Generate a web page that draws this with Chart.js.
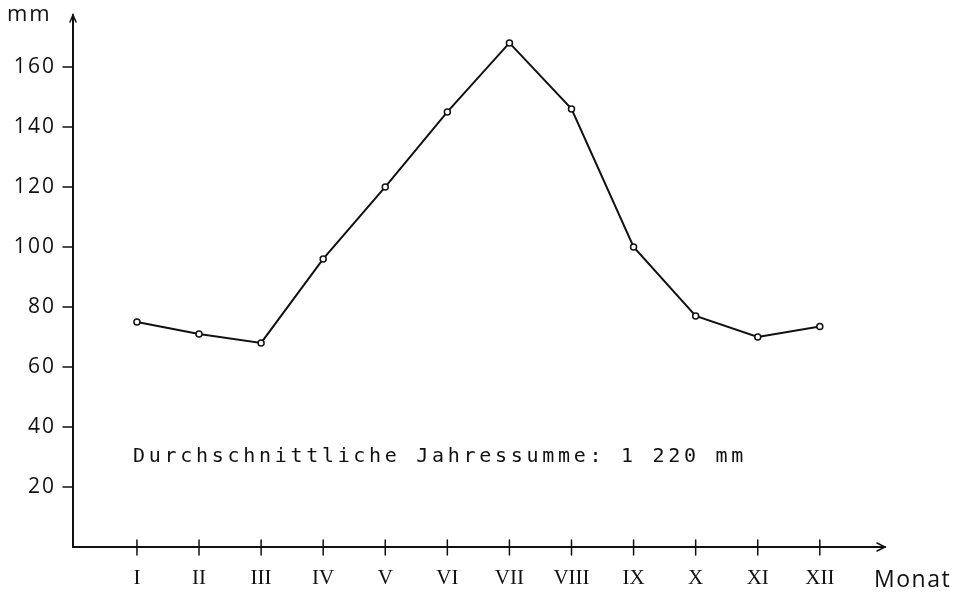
<!DOCTYPE html>
<html>
<head>
<meta charset="utf-8">
<script src="https://cdn.jsdelivr.net/npm/chart.js@4.4.1/dist/chart.umd.min.js"></script>
<style>
  html, body { margin: 0; padding: 0; background: #fff; }
  #wrap { width: 959px; height: 596px; position: relative; }
</style>
</head>
<body>
<div id="wrap"><canvas id="c" width="959" height="596"></canvas></div>
<script>
// ---- data ----
const months = ["I","II","III","IV","V","VI","VII","VIII","IX","X","XI","XII"];
const monthPos = [1,2,3,4,5,6,7,8,9,10,11,12];
const rainfall = [75, 71, 68, 96, 120, 145, 168, 146, 100, 77, 70, 73.5];
const yTicks = [20, 40, 60, 80, 100, 120, 140, 160];
const yUnit = "mm";
const xTitle = "Monat";
const note = "Durchschnittliche Jahressumme: 1 220 mm";

const points = monthPos.map((p, i) => ({ x: p, y: rainfall[i] }));
const INK = "#111";

const axesPlugin = {
  id: "handAxes",
  afterDraw(chart) {
    const ctx = chart.ctx;
    const xs = chart.scales.x, ys = chart.scales.y;
    const ca = chart.chartArea;
    const x0 = xs.getPixelForValue(xs.min);
    const y0 = ys.getPixelForValue(0);
    const xEnd = ca.right;
    const yTop = ca.top;
    ctx.save();
    ctx.strokeStyle = INK;
    ctx.lineWidth = 2;
    ctx.lineCap = "round";
    // y axis
    ctx.beginPath();
    ctx.moveTo(x0, y0);
    ctx.lineTo(x0, yTop);
    ctx.stroke();
    ctx.lineWidth = 1.5;
    ctx.beginPath();
    ctx.moveTo(x0 - 3, yTop + 7);
    ctx.lineTo(x0, yTop);
    ctx.lineTo(x0 + 3, yTop + 7);
    ctx.stroke();
    // x axis
    ctx.lineWidth = 2;
    ctx.beginPath();
    ctx.moveTo(x0, y0);
    ctx.lineTo(xEnd, y0);
    ctx.stroke();
    ctx.lineWidth = 1.5;
    ctx.beginPath();
    ctx.moveTo(xEnd - 8, y0 - 4);
    ctx.lineTo(xEnd, y0);
    ctx.lineTo(xEnd - 8, y0 + 4);
    ctx.stroke();
    // y ticks
    ctx.lineWidth = 1.5;
    yTicks.forEach(v => {
      const py = ys.getPixelForValue(v);
      ctx.beginPath();
      ctx.moveTo(x0 - 10, py);
      ctx.lineTo(x0, py);
      ctx.stroke();
    });
    // x ticks (crossing)
    monthPos.forEach(v => {
      const px = xs.getPixelForValue(v);
      ctx.beginPath();
      ctx.moveTo(px, y0 - 7);
      ctx.lineTo(px, y0 + 8);
      ctx.stroke();
    });
    // unit label
    ctx.fillStyle = INK;
    ctx.textBaseline = "alphabetic";
    ctx.font = "22px 'Open Sans'";
    ctx.textAlign = "left";
    drawSpaced(ctx, yUnit, 7, 21, 2);
    // x title
    ctx.font = "23px 'Open Sans'";
    drawSpaced(ctx, xTitle, 874, 587, 1.5);
    // annotation
    ctx.font = "20px 'DejaVu Sans Mono'";
    drawSpaced(ctx, note, 133, 462, 3.7);
    ctx.restore();
  }
};

function drawSpaced(ctx, text, x, y, sp) {
  let cx = x;
  for (const ch of text) {
    ctx.fillText(ch, cx, y);
    cx += ctx.measureText(ch).width + sp;
  }
}

new Chart(document.getElementById("c"), {
  type: "line",
  data: {
    datasets: [{
      data: points,
      borderColor: INK,
      borderWidth: 2,
      pointRadius: 3,
      pointBorderWidth: 1.5,
      pointBackgroundColor: "#fff",
      pointBorderColor: INK,
      tension: 0,
      fill: false
    }]
  },
  options: {
    responsive: false,
    animation: false,
    devicePixelRatio: 1,
    layout: { padding: { top: 15, right: 74, left: 0, bottom: 0 } },
    plugins: { legend: { display: false }, tooltip: { enabled: false } },
    scales: {
      x: {
        type: "linear",
        min: -0.03,
        max: 13.05,
        afterFit(s) { s.height = 49; s.paddingLeft = 0; s.paddingRight = 0; },
        afterBuildTicks(s) { s.ticks = monthPos.map(v => ({ value: v })); },
        grid: { display: false, drawTicks: false },
        border: { display: false },
        ticks: {
          padding: 19,
          color: INK,
          maxRotation: 0,
          autoSkip: false,
          font: { family: "'Liberation Serif'", size: 21 },
          callback: (v) => months[monthPos.indexOf(v)] || ""
        }
      },
      y: {
        min: 0,
        max: 177.3,
        afterFit(s) { s.width = 73; s.paddingTop = 0; s.paddingBottom = 0; },
        afterBuildTicks(s) { s.ticks = yTicks.map(v => ({ value: v })); },
        grid: { display: false, drawTicks: false },
        border: { display: false },
        ticks: {
          padding: 19,
          color: INK,
          font: { family: "'Open Sans'", size: 21 },
          callback: (v) => String(v).split("").join("\u200A")
        }
      }
    }
  },
  plugins: [axesPlugin]
});
</script>
</body>
</html>
